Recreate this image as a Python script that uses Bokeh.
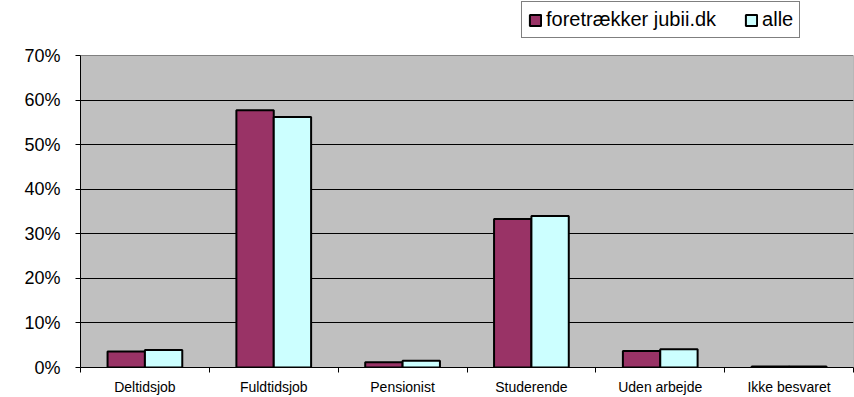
from bokeh.plotting import figure
from bokeh.models import Range1d, FixedTicker, NumeralTickFormatter, Legend, LegendItem, ColumnDataSource
from bokeh.embed import file_html
from bokeh.resources import INLINE

categories = ["Deltidsjob", "Fuldtidsjob", "Pensionist", "Studerende", "Uden arbejde", "Ikke besvaret"]
jubii = [0.036, 0.577, 0.012, 0.333, 0.037, 0.002]
alle = [0.039, 0.562, 0.015, 0.340, 0.041, 0.002]
series_names = ["foretrækker jubii.dk", "alle"]
yticks = [0.0, 0.1, 0.2, 0.3, 0.4, 0.5, 0.6, 0.7]

FONT = "Liberation Sans"
n = len(categories)
centers = list(range(1, n + 1))
bar_w = 0.29

W, H = 854, 397
B_LEFT, B_RIGHT, B_BOTTOM = 80, 1, 30
PLOT_TOP_PX = 55          # top of grey plot area (px from top)
frame_h = H - B_BOTTOM    # frame starts at top of canvas
y_top = yticks[-1] * frame_h / (frame_h - PLOT_TOP_PX)

src = ColumnDataSource(dict(
    x1=[c - bar_w / 2 for c in centers],
    x2=[c + bar_w / 2 for c in centers],
    jubii=jubii,
    alle=alle,
))

p = figure(width=W, height=H,
           x_range=Range1d(0.5, n + 0.5), y_range=Range1d(0, y_top),
           output_backend="svg", toolbar_location=None,
           min_border_left=B_LEFT, min_border_right=B_RIGHT,
           min_border_top=0, min_border_bottom=B_BOTTOM)

p.background_fill_color = "white"
p.border_fill_color = "white"
p.outline_line_color = None

# grey plot area
p.quad(left=[0.5], right=[n + 0.5], bottom=[yticks[0]], top=[yticks[-1]],
       fill_color="#C0C0C0", line_color="#808080", line_width=1)
# horizontal gridlines
p.hspan(y=yticks[1:-1], line_color="black", line_width=1)

r1 = p.vbar(x="x1", top="jubii", width=bar_w, source=src,
            fill_color="#993366", line_color="black", line_width=2)
r2 = p.vbar(x="x2", top="alle", width=bar_w, source=src,
            fill_color="#CCFFFF", line_color="black", line_width=2)

p.xgrid.visible = False
p.ygrid.visible = False

p.yaxis.ticker = FixedTicker(ticks=yticks)
p.yaxis.bounds = (yticks[0], yticks[-1])
p.yaxis.formatter = NumeralTickFormatter(format="0%")
p.yaxis.minor_tick_line_color = None
p.yaxis.major_tick_out = 5
p.yaxis.major_tick_in = 0
p.yaxis.major_label_standoff = 15
p.yaxis.major_label_text_font = FONT
p.yaxis.major_label_text_font_size = "18px"
p.yaxis.major_label_text_color = "black"
p.yaxis.axis_line_color = "black"

p.xaxis.ticker = FixedTicker(ticks=centers, minor_ticks=[c - 0.5 for c in centers] + [n + 0.5])
p.xaxis.major_label_overrides = {c: name for c, name in zip(centers, categories)}
p.xaxis.major_tick_line_color = None
p.xaxis.major_tick_out = 0
p.xaxis.major_tick_in = 0
p.xaxis.minor_tick_out = 5
p.xaxis.minor_tick_in = 0
p.xaxis.minor_tick_line_color = "black"
p.xaxis.major_label_standoff = 6
p.xaxis.major_label_text_font = FONT
p.xaxis.major_label_text_font_size = "14px"
p.xaxis.major_label_text_color = "black"
p.xaxis.axis_line_color = "black"

legend = Legend(items=[LegendItem(label=series_names[0], renderers=[r1]),
                       LegendItem(label=series_names[1], renderers=[r2])],
                orientation="horizontal", location=(441, 329),
                border_line_color="black", border_line_width=1,
                background_fill_color="white", background_fill_alpha=1,
                label_text_font=FONT, label_text_font_size="20px",
                label_text_color="black", label_height=20,
                glyph_width=14, glyph_height=14, label_standoff=4,
                spacing=28, padding=6, margin=0)
p.add_layout(legend, "center")

open("out.html", "w").write(file_html(p, INLINE))
